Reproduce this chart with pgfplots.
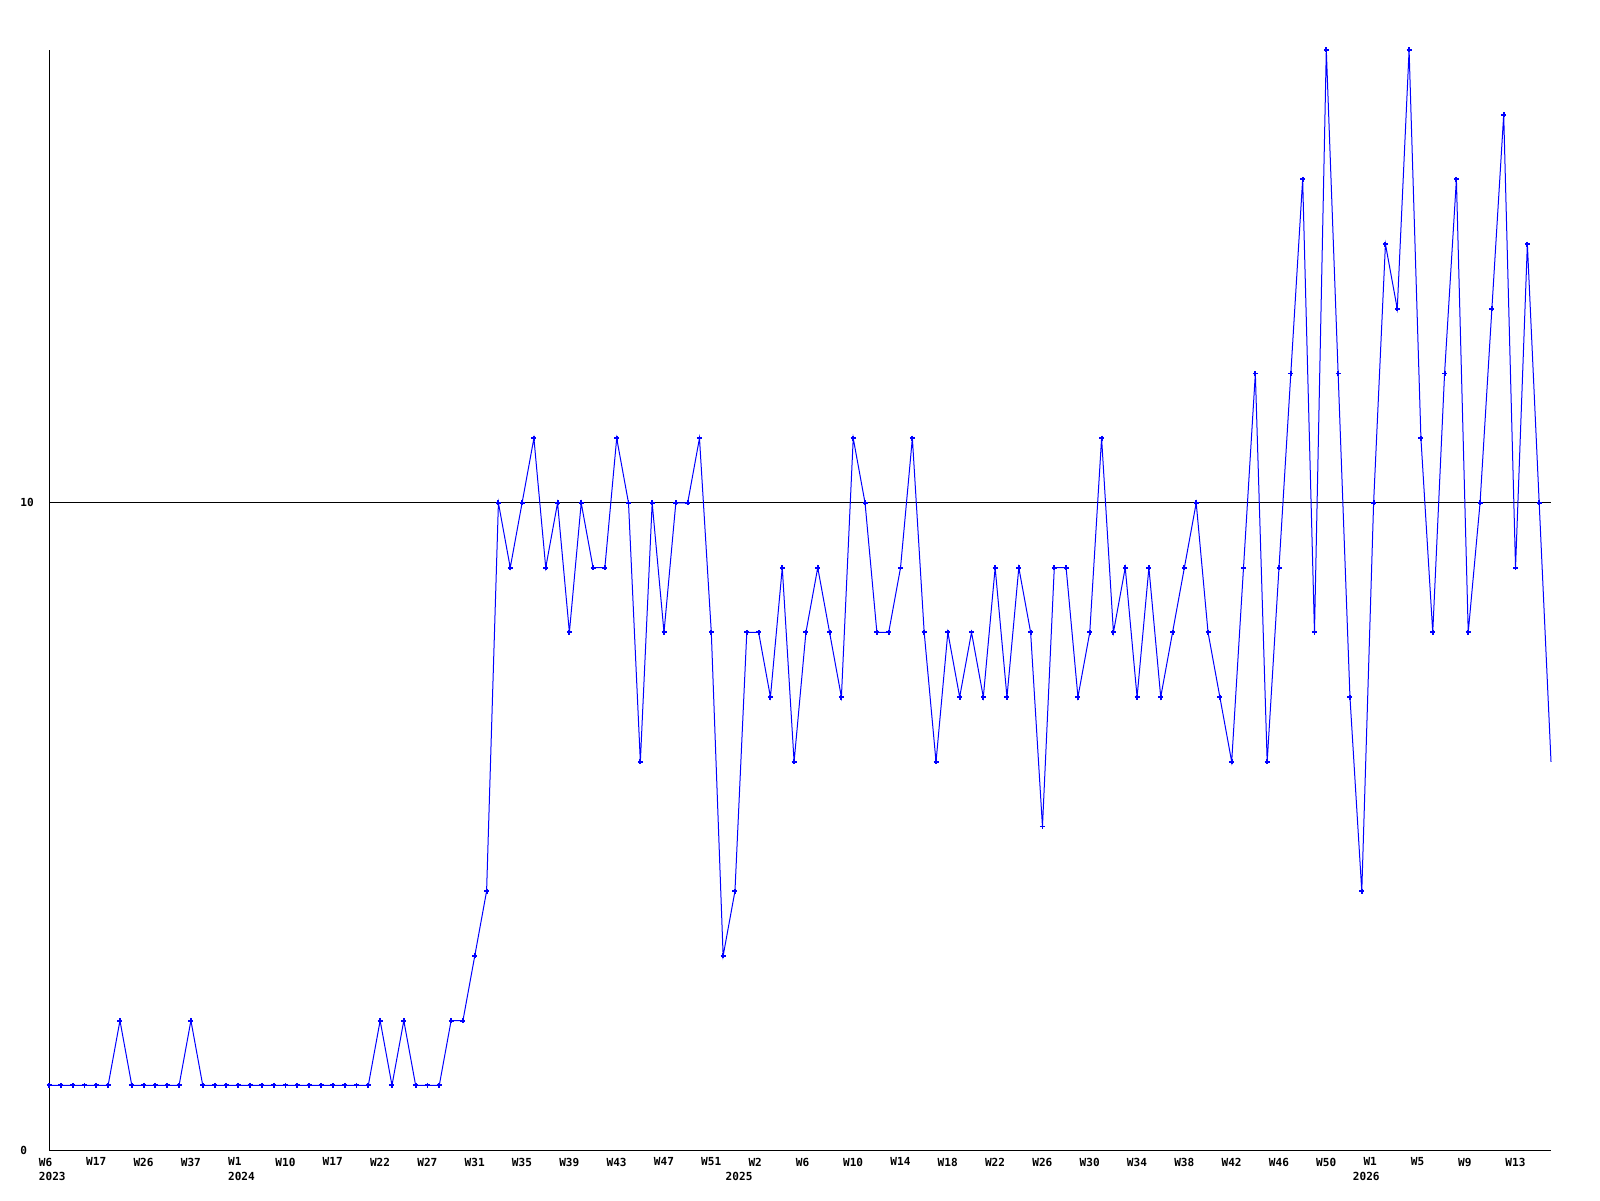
\documentclass[border=0pt]{standalone}
\usepackage{pgfplots}
\pgfplotsset{compat=1.18}
\usepackage{fontspec}
\setmainfont{DejaVu Sans Mono}
\definecolor{pureblue}{RGB}{0,0,255}
\pgfplotstableread{
x y
0 1
1 1
2 1
3 1
4 1
5 1
6 2
7 1
8 1
9 1
10 1
11 1
12 2
13 1
14 1
15 1
16 1
17 1
18 1
19 1
20 1
21 1
22 1
23 1
24 1
25 1
26 1
27 1
28 2
29 1
30 2
31 1
32 1
33 1
34 2
35 2
36 3
37 4
38 10
39 9
40 10
41 11
42 9
43 10
44 8
45 10
46 9
47 9
48 11
49 10
50 6
51 10
52 8
53 10
54 10
55 11
56 8
57 3
58 4
59 8
60 8
61 7
62 9
63 6
64 8
65 9
66 8
67 7
68 11
69 10
70 8
71 8
72 9
73 11
74 8
75 6
76 8
77 7
78 8
79 7
80 9
81 7
82 9
83 8
84 5
85 9
86 9
87 7
88 8
89 11
90 8
91 9
92 7
93 9
94 7
95 8
96 9
97 10
98 8
99 7
100 6
101 9
102 12
103 6
104 9
105 12
106 15
107 8
108 17
109 12
110 7
111 4
112 10
113 14
114 13
115 17
116 11
117 8
118 12
119 15
120 8
121 10
122 13
123 16
124 9
125 14
126 10
127 6
}\datatable
\begin{document}
\begin{tikzpicture}
\useasboundingbox (0,0) rectangle (800pt,600pt);
\begin{axis}[
  at={(24.5pt,25pt)}, anchor=south west,
  scale only axis, width=751pt, height=550pt,
  xmin=0, xmax=127, ymin=0, ymax=17,
  axis lines=left,
  axis line style={-, line width=0.5pt, black},
  clip=false,
  ytick={0,10}, yticklabels={0,10},
  ymajorgrids, grid style={black, line width=0.5pt},
  major tick length=0pt,
  xtick style={draw=none}, ytick style={draw=none},
  xtick={0,4,...,124},
  xticklabels={{W6\\2023},W17,W26,W37,{W1\\2024},W10,W17,W22,W27,W31,W35,W39,W43,W47,W51,{W2\\\hspace*{-11.4pt}2025},W6,W10,W14,W18,W22,W26,W30,W34,W38,W42,W46,W50,{W1\\\hspace*{-5.3pt}2026},W5,W9,W13},
  xticklabel style={anchor=north west, inner sep=0pt, align=left,
    font=\fontsize{5.55}{7.4}\selectfont\bfseries, xshift=-5.25pt, yshift=-3.75pt},
  yticklabel style={anchor=west, inner sep=0pt, xshift=-14.5pt,
    font=\fontsize{5.55}{7.4}\selectfont\bfseries},
]
\addplot[color=pureblue, line width=0.5pt, mark=+, mark size=1.25pt,
  mark options={line width=0.95pt}, mark indices={1,...,127}] table[x=x,y=y] {\datatable};
\end{axis}
\end{tikzpicture}
\end{document}
